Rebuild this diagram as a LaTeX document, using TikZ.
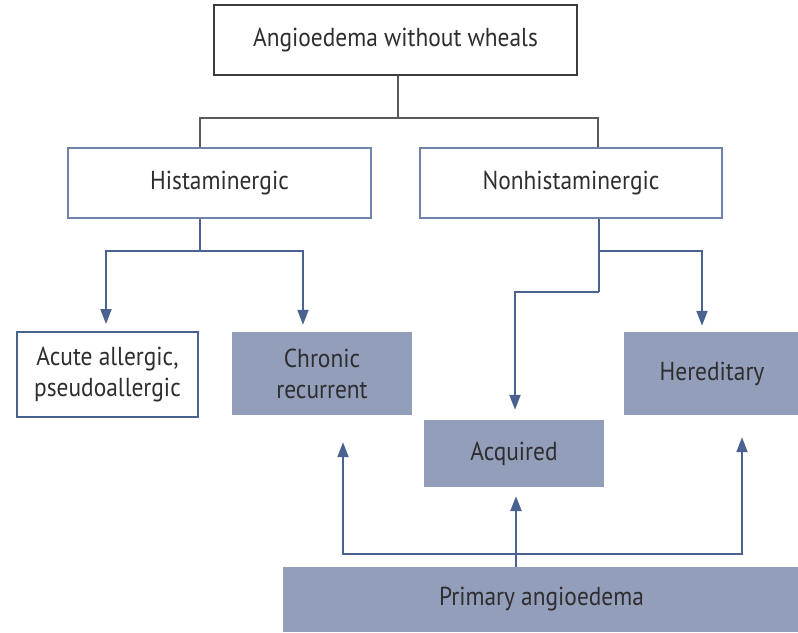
\documentclass[tikz,border=0pt]{standalone}
\usepackage{fontspec}
\setmainfont[FakeStretch=0.9]{PT Sans}
\usetikzlibrary{arrows.meta,calc}
\definecolor{boxfill}{HTML}{939EBB}
\definecolor{blueline}{HTML}{4A6290}
\definecolor{frameblue}{HTML}{7083AA}
\definecolor{darkframe}{HTML}{3C3C3C}
\definecolor{txt}{HTML}{2E2E2E}
\tikzset{
  every node/.style={font=\fontsize{26}{31}\selectfont, text=txt, align=center, inner sep=0pt},
  topbox/.style={draw=darkframe, line width=2pt, fill=white},
  midbox/.style={draw=frameblue, line width=1.5pt, fill=white},
  whitebox/.style={draw=blueline, line width=2pt, fill=white},
  filledbox/.style={fill=boxfill, draw=none},
  grayline/.style={draw=darkframe!85, line width=2.5pt},
  blueconn/.style={draw=blueline, line width=2pt},
  bluearrow/.style={blueconn, -{Triangle[length=15pt,width=11pt]}},
}
\begin{document}
\begin{tikzpicture}[x=1pt,y=-1pt]
\useasboundingbox (0,0) rectangle (798,632);
% boxes
\node[topbox, minimum width=363pt, minimum height=70pt] (top) at (395.5,40) {Angioedema without wheals};
\node[midbox, minimum width=303pt, minimum height=70pt] (hist) at (219.5,183) {Histaminergic};
\node[midbox, minimum width=302pt, minimum height=70pt] (nonhist) at (571,183) {Nonhistaminergic};
\node[whitebox, minimum width=181pt, minimum height=85pt] (acute) at (107.5,374.5) {Acute allergic,\\pseudoallergic};
\node[filledbox, minimum width=180pt, minimum height=83pt] (chronic) at (322,373.5) {Chronic\\recurrent};
\node[filledbox, minimum width=176pt, minimum height=83pt] (hered) at (712,373.5) {Hereditary};
\node[filledbox, minimum width=180pt, minimum height=67pt] (acq) at (514,453.5) {Acquired};
\node[filledbox, minimum width=517pt, minimum height=65pt] (prim) at (541.5,599.5) {Primary angioedema};
% helper coordinates
\coordinate (j1) at (398,118);
\coordinate (hx) at (200,0);
\coordinate (nx) at (598,0);
\coordinate (hj) at (200,251);
\coordinate (al) at (106,251);
\coordinate (ar) at (303,251);
\coordinate (nj) at (599,251);
\coordinate (nr) at (702,251);
\coordinate (nd) at (599,292);
\coordinate (nl) at (515,292);
\coordinate (pj) at (516,554);
\coordinate (pl) at (343,554);
\coordinate (pr) at (742,554);
% gray connectors
\draw[grayline] (top.south -| j1) -- (j1);
\draw[grayline] (hist.north -| hx) |- (j1) -| (nonhist.north -| nx);
% histaminergic branches
\draw[blueconn] (hist.south -| hj) -- (hj);
\draw[bluearrow, shorten >=7pt] (hj) -- (al) -- (al |- acute.north);
\draw[bluearrow, shorten >=7pt] (hj) -- (ar) -- (ar |- chronic.north);
% nonhistaminergic branches
\draw[blueconn] (nonhist.south -| nj) -- (nd);
\draw[bluearrow, shorten >=6pt] (nj) -- (nr) -- (nr |- hered.north);
\draw[bluearrow, shorten >=10pt] (nd) -- (nl) -- (nl |- acq.north);
% primary angioedema
\draw[bluearrow, line width=2.5pt, shorten >=9pt] (prim.north -| pj) -- (pj |- acq.south);
\draw[bluearrow, shorten >=27pt] (pj) -- (pl) -- (pl |- chronic.south);
\draw[bluearrow, shorten >=22pt] (pj) -- (pr) -- (pr |- hered.south);
\end{tikzpicture}
\end{document}
